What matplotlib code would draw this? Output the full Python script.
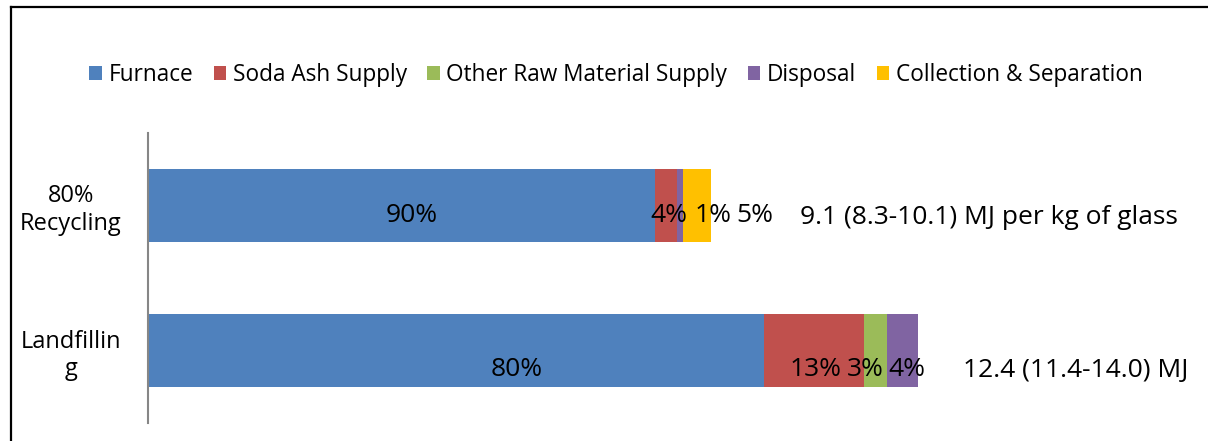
import numpy as np
import matplotlib
matplotlib.use("Agg")
import matplotlib.pyplot as plt
from matplotlib.lines import Line2D

plt.rcParams['font.family'] = ['Open Sans', 'DejaVu Sans']

# energy per kg of glass (MJ)
categories = ["80%\nRecycling", "Landfillin\ng"]
stages = ["Furnace", "Soda Ash Supply", "Other Raw Material Supply",
          "Disposal", "Collection & Separation"]
furnace = [8.16, 9.92]
soda_ash = [0.36, 1.61]
other_raw = [0.0, 0.37]
disposal = [0.09, 0.50]
collection = [0.46, 0.0]
colors = ["#4F81BD", "#C0504D", "#9BBB59", "#8064A2", "#FFC000"]

# share labels as written on the chart, with where they sit (MJ)
rec_labels = ["90%", "4%", "1%", "5%"]
rec_label_x = [4.24, 8.39, 9.10, 9.77]
land_labels = ["80%", "13%", "3%", "4%"]
land_label_x = [5.94, 10.74, 11.55, 12.21]
totals = ["9.1 (8.3-10.1) MJ per kg of glass", "12.4 (11.4-14.0) MJ"]
totals_x = [10.50, 13.12]

W, H = 1208, 441
fig = plt.figure(figsize=(W / 100, H / 100), dpi=100)
ax = fig.add_axes([148 / W, 18 / H, 1060 / W, 290 / H])

y = np.arange(len(categories))
series = [furnace, soda_ash, other_raw, disposal, collection]
left = np.zeros(len(categories))
for vals, name, c in zip(series, stages, colors):
    ax.barh(y, vals, left=left, height=0.51, color=c, label=name)
    left += np.array(vals)

ax.set_xlim(0, 1060 / 62.12)
ax.set_ylim(1.5, -0.5)
ax.set_yticks(y)
ax.set_yticklabels(categories, fontsize=17, multialignment='center',
                   linespacing=1.2)
ax.tick_params(axis='y', length=0, pad=19)
ax.set_xticks([])
for s in ['top', 'right', 'bottom']:
    ax.spines[s].set_visible(False)
ax.spines['left'].set_color('#868686')
ax.spines['left'].set_linewidth(1.5)

fs = 19
for lab, x in zip(rec_labels, rec_label_x):
    ax.text(x, 0.07, lab, ha='center', va='center', fontsize=fs)
for lab, x in zip(land_labels, land_label_x):
    ax.text(x, 1.13, lab, ha='center', va='center', fontsize=fs)
ax.text(totals_x[0], 0.08, totals[0], ha='left', va='center', fontsize=fs)
ax.text(totals_x[1], 1.14, totals[1], ha='left', va='center', fontsize=fs)

fig.legend(loc='center', bbox_to_anchor=(616 / W, 1 - 75 / H), ncol=5,
           frameon=False, fontsize=16.3, handlelength=0.55, handleheight=0.6,
           handletextpad=0.3, columnspacing=0.9, borderaxespad=0)

# outer chart border (top and left visible)
fig.add_artist(Line2D([10.5 / W, 1], [1 - 6.5 / H, 1 - 6.5 / H],
                      transform=fig.transFigure, color='black', lw=1.6))
fig.add_artist(Line2D([10.5 / W, 10.5 / W], [0, 1 - 6.5 / H],
                      transform=fig.transFigure, color='black', lw=1.6))

fig.savefig("out.png", dpi=100)
